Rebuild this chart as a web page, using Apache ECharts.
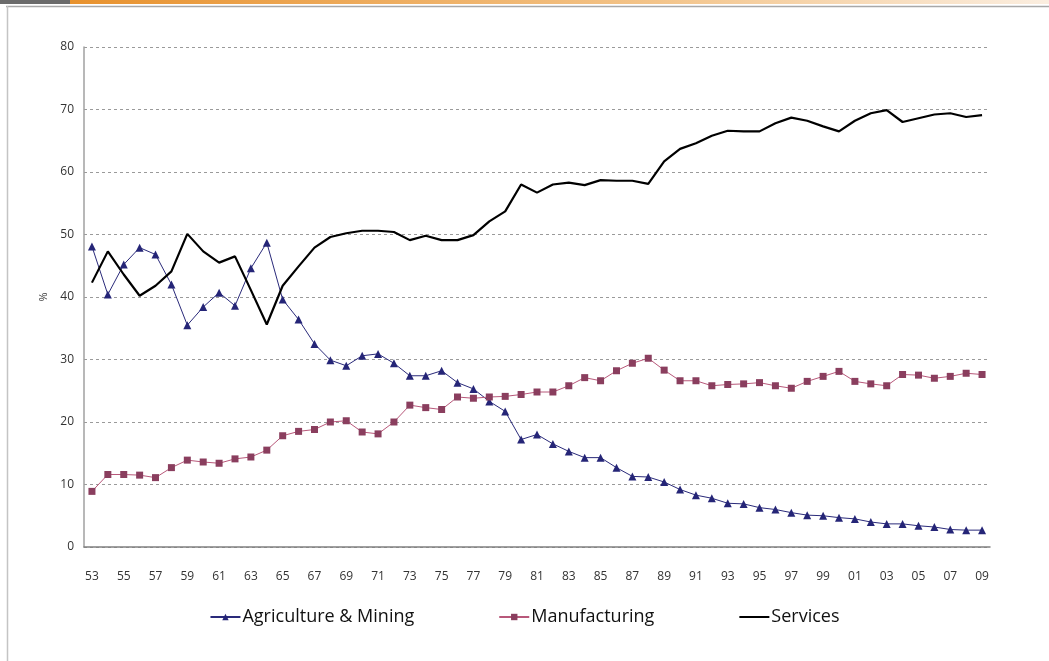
<!DOCTYPE html>
<html>
<head>
<meta charset="utf-8">
<script src="https://cdn.jsdelivr.net/npm/echarts@6/dist/echarts.min.js"></script>
<style>
  html, body { margin: 0; padding: 0; background: #fff; }
  #main { width: 1049px; height: 661px; }
</style>
</head>
<body>
<div id="main"></div>
<script>
var years = ['53','54','55','56','57','58','59','60','61','62','63','64','65','66','67','68','69','70','71','72',
  '73','74','75','76','77','78','79','80','81','82','83','84','85','86','87','88','89','90','91','92',
  '93','94','95','96','97','98','99','00','01','02','03','04','05','06','07','08','09'];

var agriculture = [48.1, 40.4, 45.2, 47.9, 46.8, 42.0, 35.5, 38.4, 40.7, 38.6,
  44.6, 48.7, 39.6, 36.4, 32.5, 29.9, 29.0, 30.6, 30.9, 29.4,
  27.4, 27.4, 28.2, 26.3, 25.3, 23.3, 21.7, 17.2, 18.0, 16.5,
  15.3, 14.3, 14.3, 12.7, 11.3, 11.2, 10.4, 9.2, 8.3, 7.8,
  7.0, 6.9, 6.3, 6.0, 5.5, 5.1, 5.0, 4.7, 4.5, 4.0,
  3.7, 3.7, 3.4, 3.2, 2.8, 2.7, 2.7];

var manufacturing = [8.9, 11.6, 11.6, 11.5, 11.1, 12.7, 13.9, 13.6, 13.4, 14.1,
  14.4, 15.5, 17.8, 18.5, 18.8, 20.0, 20.2, 18.4, 18.1, 20.0,
  22.7, 22.3, 22.0, 24.0, 23.8, 24.0, 24.1, 24.4, 24.8, 24.8,
  25.8, 27.1, 26.6, 28.2, 29.4, 30.2, 28.3, 26.6, 26.6, 25.8,
  26.0, 26.1, 26.3, 25.8, 25.4, 26.5, 27.3, 28.1, 26.5, 26.1,
  25.8, 27.6, 27.5, 27.0, 27.3, 27.8, 27.6];

var services = [42.3, 47.3, 43.6, 40.2, 41.8, 44.1, 50.1, 47.3, 45.5, 46.5,
  41.1, 35.6, 41.8, 44.9, 47.9, 49.6, 50.2, 50.6, 50.6, 50.4,
  49.1, 49.8, 49.1, 49.1, 49.9, 52.1, 53.7, 58.0, 56.7, 58.0,
  58.3, 57.9, 58.7, 58.6, 58.6, 58.1, 61.7, 63.7, 64.6, 65.8,
  66.6, 66.5, 66.5, 67.8, 68.7, 68.2, 67.3, 66.5, 68.2, 69.4,
  69.9, 68.0, 68.6, 69.2, 69.4, 68.8, 69.1];

var yTicks = { min: 0, max: 80, interval: 10 };

var chart = echarts.init(document.getElementById('main'));

chart.setOption({
  animation: false,
  backgroundColor: '#fff',
  textStyle: { fontFamily: 'Open Sans, sans-serif' },
  graphic: [
    { type: 'rect', left: 0, top: 0, shape: { width: 70, height: 4 }, style: { fill: '#6b6b6b' } },
    {
      type: 'rect', left: 70, top: 0, shape: { width: 979, height: 4 },
      style: {
        fill: new echarts.graphic.LinearGradient(0, 0, 1, 0, [
          { offset: 0, color: '#e8922e' },
          { offset: 0.6, color: '#f3c48a' },
          { offset: 1, color: '#fbeee0' }
        ])
      }
    },
    { type: 'line', shape: { x1: 6, y1: 6.5, x2: 1049, y2: 6.5 }, style: { stroke: '#a8a8a8', lineWidth: 1.5 } },
    { type: 'line', shape: { x1: 7.5, y1: 6, x2: 7.5, y2: 661 }, style: { stroke: '#c4c4c4', lineWidth: 1.5 } }
  ],
  grid: { left: 84, right: 59, top: 47, bottom: 114 },
  legend: {
    bottom: 30,
    left: 'center',
    itemGap: 84,
    itemWidth: 30,
    itemHeight: 8,
    textStyle: { fontSize: 18, color: '#111', fontFamily: 'Open Sans, sans-serif', padding: [0, 0, 0, -3] },
    data: [
      'Agriculture & Mining',
      'Manufacturing',
      { name: 'Services', itemStyle: { opacity: 0 } }
    ]
  },
  xAxis: {
    type: 'category',
    data: years,
    boundaryGap: true,
    axisLine: { show: true, lineStyle: { color: '#808080', width: 1.5 } },
    axisTick: { show: false },
    axisLabel: { interval: 1, color: '#333', fontSize: 12, margin: 24 },
    splitLine: { show: false }
  },
  yAxis: {
    type: 'value',
    min: yTicks.min,
    max: yTicks.max,
    interval: yTicks.interval,
    name: '%',
    nameLocation: 'middle',
    nameGap: 34,
    nameRotate: 90,
    nameTextStyle: { color: '#333', fontSize: 11 },
    axisLine: { show: true, lineStyle: { color: '#a0a0a0', width: 1.5 } },
    axisTick: { show: false },
    axisLabel: { color: '#333', fontSize: 12, margin: 10 },
    splitLine: { show: true, lineStyle: { color: '#9a9a9a', type: [3, 3], width: 1 } }
  },
  series: [
    {
      name: 'Agriculture & Mining',
      type: 'line',
      data: agriculture,
      symbol: 'triangle',
      symbolSize: 8,
      lineStyle: { color: '#2a2a7a', width: 1 },
      itemStyle: { color: '#252577' }
    },
    {
      name: 'Manufacturing',
      type: 'line',
      data: manufacturing,
      symbol: 'rect',
      symbolSize: 7,
      lineStyle: { color: '#b8587a', width: 1 },
      itemStyle: { color: '#8a3e5e' }
    },
    {
      name: 'Services',
      type: 'line',
      data: services,
      symbol: 'none',
      lineStyle: { color: '#000', width: 2.2 },
      itemStyle: { color: '#000' }
    }
  ]
});
</script>
</body>
</html>
